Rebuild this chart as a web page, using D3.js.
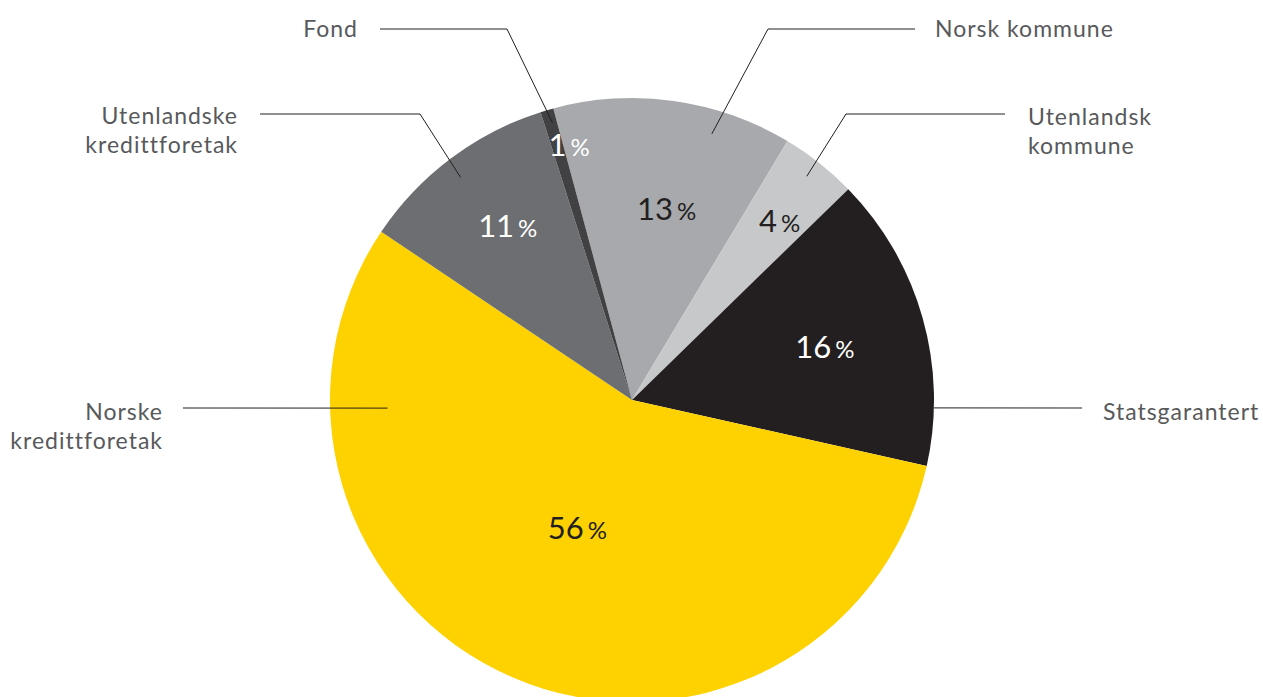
<!DOCTYPE html>
<meta charset="utf-8">
<style>
  body { margin: 0; background: #fff; }
  svg { font-family: Lato, "Open Sans", sans-serif; }
  .name { fill: #58595b; font-size: 23px; letter-spacing: 1px; }
  .leader { fill: none; stroke: #231f20; stroke-width: 1; }
</style>
<body>
<script src="https://d3js.org/d3.v7.min.js"></script>
<script>

// shares (percent); order clockwise from "Norsk kommune"
var names = ["Norsk kommune", "Utenlandsk kommune", "Statsgarantert", "Norske kredittforetak", "Utenlandske kredittforetak", "Fond"];
var values = [12.8, 4.1, 15.8, 55.9, 10.7, 0.7];
var shown = ["13", "4", "16", "56", "11", "1"];
var colors = ["#a7a9ac", "#c7c8ca", "#231f20", "#fdd200", "#6d6e71", "#414042"];
var labelColors = ["#231f20", "#231f20", "#ffffff", "#231f20", "#ffffff", "#ffffff"];

var width = 1263, height = 697,
    cx = 632, cy = 400, radius = 302;

// label placement: percent label radius factor, leader start (angle deg, radius factor), elbow, text
var layout = {
  "Norsk kommune":            {lr: 0.63, la: 10.5, a: 16.7, r: 0.92, elbow: [768, 29], end: [915, 29], tx: 935, ty: 29, anchor: "start", lines: ["Norsk kommune"]},
  "Utenlandsk kommune":       {lr: 0.76, la: 40, a: 38, r: 0.94, elbow: [846, 114], end: [1005, 114], tx: 1028, ty: 117, anchor: "start", lines: ["Utenlandsk", "kommune"]},
  "Statsgarantert":           {lr: 0.66, la: 75.5, a: 91.5, r: 1.0, elbow: null, end: [1082, 408], tx: 1103, ty: 412, anchor: "start", lines: ["Statsgarantert"]},
  "Norske kredittforetak":    {lr: 0.47, la: 202.6, a: 268.1, r: 0.81, elbow: null, end: [183, 408], tx: 163, ty: 412, anchor: "end", lines: ["Norske", "kredittforetak"]},
  "Utenlandske kredittforetak": {lr: 0.70, la: 324, a: 322.4, r: 0.93, elbow: [420, 114], end: [260, 114], tx: 238, ty: 116, anchor: "end", lines: ["Utenlandske", "kredittforetak"]},
  "Fond":                     {lr: 0.86, la: 346, a: 344, r: 0.955, elbow: [507, 29], end: [380, 29], tx: 358, ty: 29, anchor: "end", lines: ["Fond"]}
};

var data = names.map(function(n, i) {
  return {name: n, value: values[i], shown: shown[i], color: colors[i], text: labelColors[i]};
});

var rad = Math.PI / 180;
var pie = d3.pie().sort(null).value(function(d) { return d.value; })
    .startAngle(-15.1 * rad).endAngle(344.9 * rad);
var arc = d3.arc().innerRadius(0).outerRadius(radius);

var svg = d3.select("body").append("svg")
    .attr("width", width)
    .attr("height", height);

var g = svg.append("g").attr("transform", "translate(" + cx + "," + cy + ")");

g.selectAll("path.slice")
  .data(pie(data))
  .enter().append("path")
    .attr("class", "slice")
    .attr("fill", function(d) { return d.data.color; })
    .attr("d", arc);

function polar(deg, r) {
  return [r * Math.sin(deg * rad), -r * Math.cos(deg * rad)];
}

// leader lines
svg.selectAll("path.leader")
  .data(data)
  .enter().append("path")
    .attr("class", "leader")
    .attr("d", function(d) {
      var L = layout[d.name];
      var p = polar(L.a, L.r * radius);
      var pts = [[cx + p[0], cy + p[1]]];
      if (L.elbow) pts.push(L.elbow);
      pts.push(L.end);
      return d3.line()(pts);
    });

// category names
svg.selectAll("text.name")
  .data(data)
  .enter().append("text")
    .attr("class", "name")
    .attr("text-anchor", function(d) { return layout[d.name].anchor; })
    .attr("x", function(d) { return layout[d.name].tx; })
    .attr("y", function(d) { return layout[d.name].ty; })
    .each(function(d) {
      var L = layout[d.name];
      d3.select(this).selectAll("tspan")
        .data(L.lines)
        .enter().append("tspan")
          .attr("x", L.tx)
          .attr("dy", function(t, i) { return i === 0 ? "0.35em" : "1.25em"; })
          .text(function(t) { return t; });
    });

// percent labels
var pl = g.selectAll("text.pct")
  .data(pie(data))
  .enter().append("text")
    .attr("class", "pct")
    .attr("text-anchor", "middle")
    .attr("dy", "0.47em")
    .attr("fill", function(d) { return d.data.text; })
    .attr("transform", function(d) {
      var L = layout[d.data.name];
      var p = polar(L.la, L.lr * radius);
      return "translate(" + p[0] + "," + p[1] + ")";
    });

pl.append("tspan")
    .style("font-size", "31px")
    .text(function(d) { return d.data.shown; });
pl.append("tspan")
    .style("font-size", "24px")
    .attr("dx", 4)
    .text("%");

</script>
</body>
